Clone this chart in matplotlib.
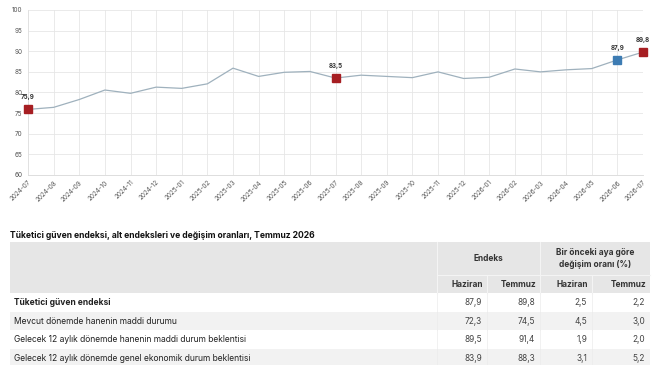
import matplotlib
matplotlib.use("Agg")
import matplotlib.pyplot as plt
from matplotlib.patches import Rectangle

plt.rcParams['font.family'] = ['Inter', 'DejaVu Sans']

months = ["2024-07", "2024-08", "2024-09", "2024-10", "2024-11", "2024-12",
          "2025-01", "2025-02", "2025-03", "2025-04", "2025-05", "2025-06",
          "2025-07", "2025-08", "2025-09", "2025-10", "2025-11", "2025-12",
          "2026-01", "2026-02", "2026-03", "2026-04", "2026-05", "2026-06",
          "2026-07"]
values = [75.9, 76.4, 78.3, 80.6, 79.8, 81.3, 81.0, 82.1, 85.9, 83.9, 84.9, 85.1,
          83.5, 84.2, 83.9, 83.6, 85.0, 83.4, 83.7, 85.7, 85.0, 85.5, 85.8, 87.9,
          89.8]
red_points = ["2024-07", "2025-07", "2026-07"]
blue_points = ["2026-06"]
y_ticks = [60, 65, 70, 75, 80, 85, 90, 95, 100]

table_title = "Tüketici güven endeksi, alt endeksleri ve değişim oranları, Temmuz 2026"
group_headers = ["Endeks", "Bir önceki aya göre\ndeğişim oranı (%)"]
sub_headers = ["Haziran", "Temmuz", "Haziran", "Temmuz"]
row_labels = ["Tüketici güven endeksi",
              "Mevcut dönemde hanenin maddi durumu",
              "Gelecek 12 aylık dönemde hanenin maddi durum beklentisi",
              "Gelecek 12 aylık dönemde genel ekonomik durum beklentisi"]
endeks_haziran = ["87,9", "72,3", "89,5", "83,9"]
endeks_temmuz = ["89,8", "74,5", "91,4", "88,3"]
degisim_haziran = ["2,5", "4,5", "1,9", "3,1"]
degisim_temmuz = ["2,2", "3,0", "2,0", "5,2"]

W, H = 660, 365
fig = plt.figure(figsize=(W / 100, H / 100), dpi=100)
fig.patch.set_facecolor("white")

# ---- line chart ----
x0, x1 = 28, 643
y_top, y_bot = 10, 175
ax = fig.add_axes([x0 / W, 1 - y_bot / H, (x1 - x0) / W, (y_bot - y_top) / H])
xs = list(range(len(months)))
ax.plot(xs, values, color="#9fb1bd", lw=0.9, zorder=2)
for i, m in enumerate(months):
    if m in red_points or m in blue_points:
        c = "#a61e22" if m in red_points else "#3d7cb3"
        ax.plot(i, values[i], marker="s", ms=5.5, color=c, mec=c, zorder=3,
                clip_on=False)
        ax.text(i, values[i] + 2.2, f"{values[i]:.1f}".replace(".", ","),
                ha="center", va="bottom", fontsize=4.5, fontweight="bold",
                color="#333333", clip_on=False)
ax.set_xlim(0, len(months) - 1)
ax.set_ylim(60, 100)
ax.set_yticks(y_ticks)
ax.set_xticks(xs)
ax.set_xticklabels(months, rotation=45, ha="right", rotation_mode="anchor",
                   fontsize=4.6, color="#555555")
ax.tick_params(axis="y", labelsize=4.6, labelcolor="#555555", length=0, pad=4)
ax.tick_params(axis="x", length=0, pad=3)
ax.grid(True, color="#e6e6e6", lw=0.6)
ax.set_axisbelow(True)
for s in ["top", "right"]:
    ax.spines[s].set_visible(False)
ax.spines["left"].set_color("#e0e0e0")
ax.spines["bottom"].set_color("#d8d8d8")
ax.spines["left"].set_linewidth(0.6)
ax.spines["bottom"].set_linewidth(0.6)

# ---- table ----
tab = fig.add_axes([0, 0, 1, 1])
tab.set_xlim(0, W)
tab.set_ylim(H, 0)
tab.axis("off")

tab.text(10, 235, table_title, fontsize=6.15, fontweight="bold", color="#111111",
         ha="left", va="center")

L, R = 10, 650
col_edges = [L, 437, 487, 540, 592, R]
hdr_top, hdr_mid, hdr_bot = 242, 275, 293
row_h = 18.6
hdr_col = "#e6e6e6"
fs = 6.0
tab.add_patch(Rectangle((L, hdr_top), R - L, hdr_bot - hdr_top, facecolor=hdr_col,
                        edgecolor="none"))
sep = "#f4f4f4"
tab.plot([col_edges[1]] * 2, [hdr_top, hdr_bot], color=sep, lw=0.8)
tab.plot([col_edges[3]] * 2, [hdr_top, hdr_bot], color=sep, lw=0.8)
tab.plot([col_edges[1], R], [hdr_mid, hdr_mid], color=sep, lw=0.8)
tab.plot([col_edges[2]] * 2, [hdr_mid, hdr_bot], color=sep, lw=0.8)
tab.plot([col_edges[4]] * 2, [hdr_mid, hdr_bot], color=sep, lw=0.8)

tab.text((col_edges[1] + col_edges[3]) / 2, (hdr_top + hdr_mid) / 2,
         group_headers[0], fontsize=fs, fontweight="bold", color="#333333",
         ha="center", va="center")
tab.text((col_edges[3] + R) / 2, (hdr_top + hdr_mid) / 2, group_headers[1],
         fontsize=fs, fontweight="bold", color="#333333", ha="center",
         va="center", linespacing=1.35)
for j, h in enumerate(sub_headers):
    tab.text(col_edges[j + 2] - 4, (hdr_mid + hdr_bot) / 2 + 0.5, h, fontsize=fs,
             fontweight="bold", color="#333333", ha="right", va="center")

cols = [endeks_haziran, endeks_temmuz, degisim_haziran, degisim_temmuz]
for i, lab in enumerate(row_labels):
    top = hdr_bot + i * row_h
    fc = "white" if i % 2 == 0 else "#f2f2f2"
    tab.add_patch(Rectangle((L, top), R - L, row_h, facecolor=fc,
                            edgecolor="none"))
    for xe in col_edges[1:-1]:
        tab.plot([xe, xe], [top, top + row_h], color="#ececec", lw=0.5)
    cy = top + row_h / 2 + 0.3
    tab.text(L + 4, cy, lab, fontsize=6.1, color="#222222", ha="left",
             va="center", fontweight="bold" if i == 0 else "normal")
    for j, col in enumerate(cols):
        tab.text(col_edges[j + 2] - 5, cy, col[i], fontsize=fs, color="#444444",
                 ha="right", va="center")

fig.savefig("out.png", dpi=100)
